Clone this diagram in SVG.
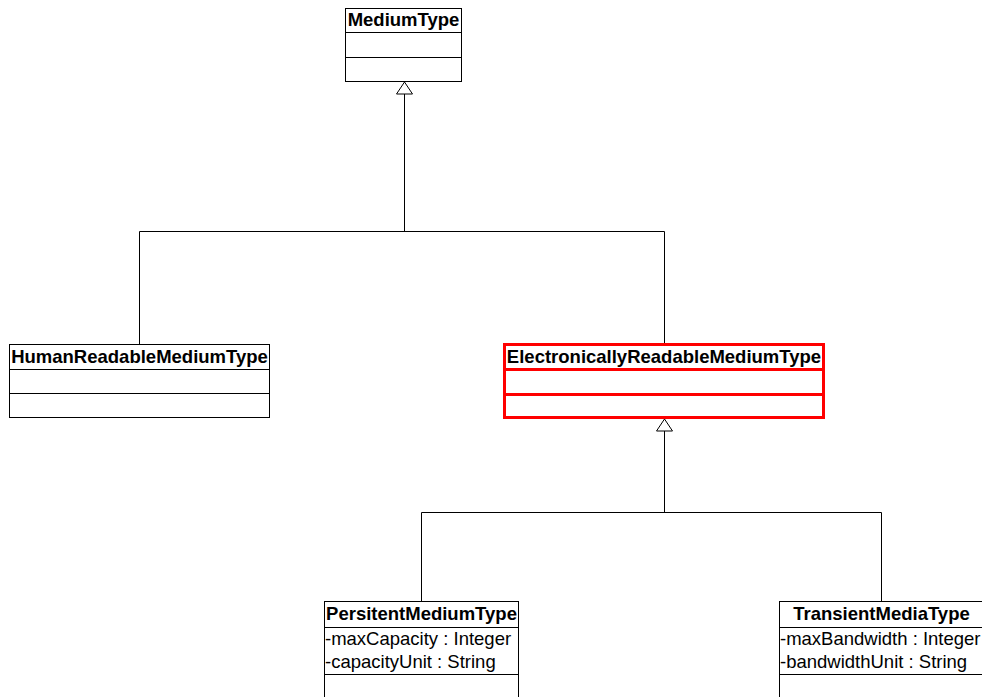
<svg xmlns="http://www.w3.org/2000/svg" width="982" height="697" viewBox="0 0 982 697">
  <style>
    .box { fill: #fff; stroke: #000; stroke-width: 1; }
    .sel { fill: #fff; stroke: #f00; stroke-width: 3; }
    .sep { stroke: #000; stroke-width: 1; }
    .sepr { stroke: #f00; stroke-width: 3; }
    .name { font-family: "Liberation Sans", Arial, sans-serif; font-size: 18.5px; font-weight: bold; fill: #000; text-anchor: middle; }
    .attr { font-family: "Liberation Sans", Arial, sans-serif; font-size: 18.5px; fill: #000; }
    .edge { fill: none; stroke: #000; stroke-width: 1; }
    .head { fill: #fff; stroke: #000; stroke-width: 1; }
  </style>
  <rect width="982" height="697" fill="#fff"/>

  <!-- generalization connectors: orthogonal trees with hollow triangle heads -->
  <g id="connectors">
    <path class="edge" d="M139.5,344 V231.5 H664.5 V344"/>
    <path class="edge" d="M404.5,231.5 V94"/>
    <path class="head" d="M396.5,94 L404.5,82 L412.5,94 Z"/>
    <path class="edge" d="M421.5,601 V512.5 H881.5 V601"/>
    <path class="edge" d="M664.5,512.5 V431"/>
    <path class="head" d="M656.5,431 L664.5,419 L672.5,431 Z"/>
  </g>

  <g id="MediumType">
    <rect class="box" x="345.5" y="8.5" width="116" height="73"/>
    <line class="sep" x1="345.5" y1="32.5" x2="461.5" y2="32.5"/>
    <line class="sep" x1="345.5" y1="57.5" x2="461.5" y2="57.5"/>
    <text class="name" x="403.5" y="26">MediumType</text>
  </g>

  <g id="HumanReadableMediumType">
    <rect class="box" x="9.5" y="344.5" width="260" height="73"/>
    <line class="sep" x1="9.5" y1="369.5" x2="269.5" y2="369.5"/>
    <line class="sep" x1="9.5" y1="393.5" x2="269.5" y2="393.5"/>
    <text class="name" x="139.5" y="363">HumanReadableMediumType</text>
  </g>

  <g id="ElectronicallyReadableMediumType">
    <rect class="sel" x="504.5" y="344.5" width="319" height="73"/>
    <line class="sepr" x1="504.5" y1="369.5" x2="823.5" y2="369.5"/>
    <line class="sepr" x1="504.5" y1="394.5" x2="823.5" y2="394.5"/>
    <text class="name" x="664" y="363">ElectronicallyReadableMediumType</text>
  </g>

  <g id="PersitentMediumType">
    <rect class="box" x="324.5" y="601.5" width="194" height="110"/>
    <line class="sep" x1="324.5" y1="627.5" x2="518.5" y2="627.5"/>
    <line class="sep" x1="324.5" y1="674.5" x2="518.5" y2="674.5"/>
    <text class="name" x="421.5" y="620">PersitentMediumType</text>
    <text class="attr" x="325" y="645">-maxCapacity : Integer</text>
    <text class="attr" x="325" y="668">-capacityUnit : String</text>
  </g>

  <g id="TransientMediaType">
    <rect class="box" x="779.5" y="601.5" width="210" height="110"/>
    <line class="sep" x1="779.5" y1="627.5" x2="989.5" y2="627.5"/>
    <line class="sep" x1="779.5" y1="674.5" x2="989.5" y2="674.5"/>
    <text class="name" x="881.5" y="620">TransientMediaType</text>
    <text class="attr" x="780" y="645">-maxBandwidth : Integer</text>
    <text class="attr" x="780" y="668">-bandwidthUnit : String</text>
  </g>
</svg>
